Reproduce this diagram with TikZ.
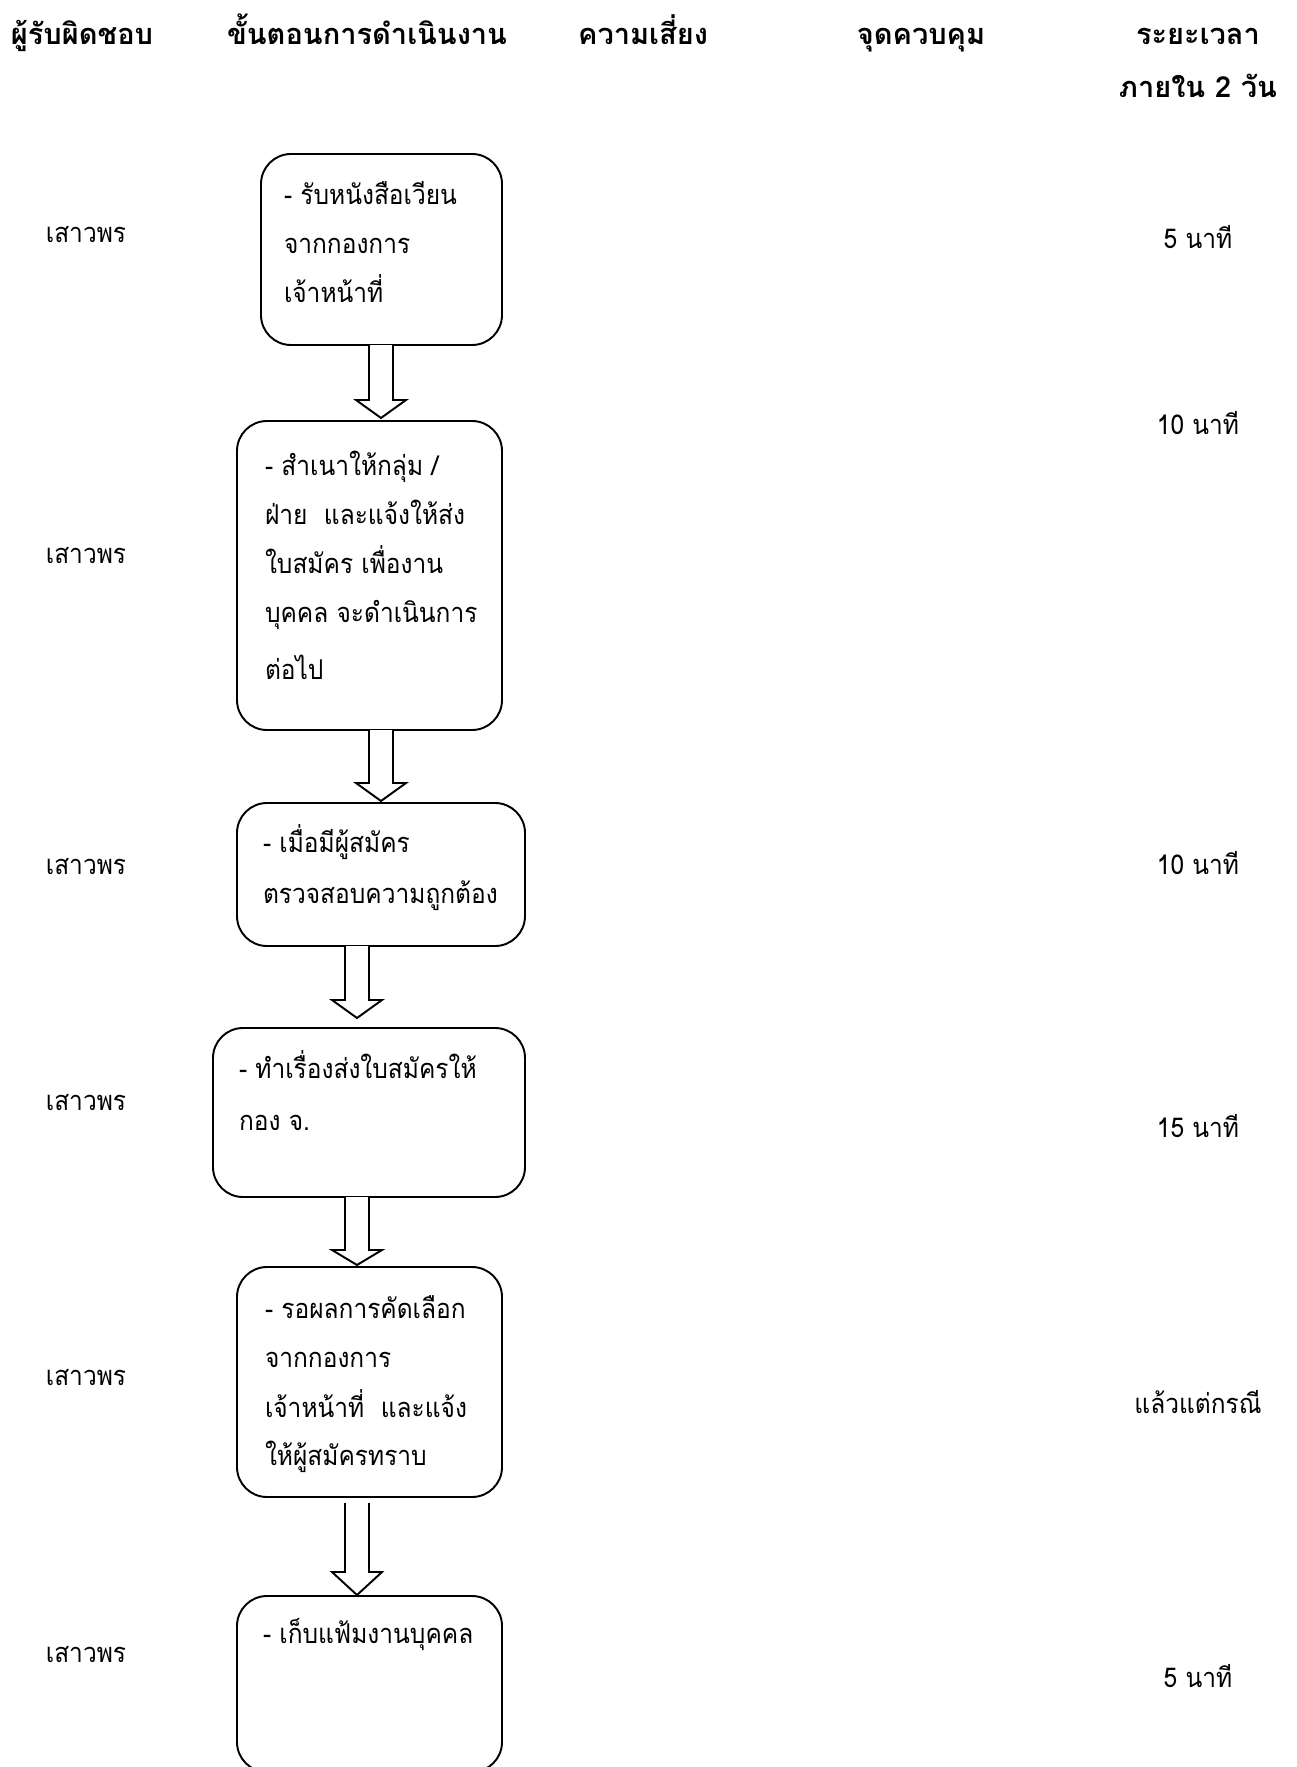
\documentclass[tikz,border=0pt]{standalone}
\usepackage{fontspec}
\setmainfont[Script=Thai]{Loma}
\newfontfamily\thaibody[Script=Thai,FakeStretch=0.9]{Loma}
\newfontfamily\thaihead[Script=Thai]{Loma}
\usetikzlibrary{calc}
\tikzset{
  every node/.style={inner sep=0pt, outer sep=0pt},
  head/.style={font=\thaihead\bfseries\fontsize{16.5}{19}\selectfont, anchor=base},
  body/.style={font=\thaibody\fontsize{15.5}{18}\selectfont, anchor=base west},
  mid/.style={font=\thaibody\fontsize{15.5}{18}\selectfont, anchor=base},
  stepbox/.style={draw, line width=1.1pt, rounded corners=0.6cm},
  fatarrow/.style={draw, line width=1.1pt, fill=white, line join=miter}
}
\newcommand{\blockarrow}[4]{% #1 x, #2 ytop, #3 ybase, #4 ytip
  \path[fatarrow] (#1-12,#2) -- (#1-12,#3) -- (#1-25,#3) -- (#1,#4) -- (#1+25,#3) -- (#1+12,#3) -- (#1+12,#2);
}
\begin{document}
\begin{tikzpicture}[x=0.02cm,y=-0.02cm]
\useasboundingbox (0,0) rectangle (1296,1767);
\fill[white] (0,0) rectangle (1296,1767);

% headers
\node[head] (h1) at (82,45) {ผู้รับผิดชอบ};
\node[head] (h2) at (367,45) {ขั้นตอนการดำเนินงาน};
\node[head] (h3) at (643,45) {ความเสี่ยง};
\node[head] (h4) at (921,45) {จุดควบคุม};
\node[head] (h5) at (1198,45) {ระยะเวลา};
\node[head] (h6) at (1198,98) {ภายใน 2 วัน};

% boxes
\draw[stepbox] (261,154) rectangle (502,345);
\draw[stepbox] (237,421) rectangle (502,730);
\draw[stepbox] (237,803) rectangle (525,946);
\draw[stepbox] (213,1028) rectangle (525,1197);
\draw[stepbox] (237,1267) rectangle (502,1497);
\draw[stepbox] (237,1596) rectangle (502,1772);

% block arrows
\blockarrow{381}{345}{400}{418}
\blockarrow{381}{730}{783}{801}
\blockarrow{357}{946}{1000}{1018}
\blockarrow{357}{1197}{1250}{1265}
\blockarrow{357}{1503}{1572}{1595}

% box texts
\node[body] (t11) at (284,205) {- รับหนังสือเวียน};
\node[body] (t12) at (284,254) {จากกองการ};
\node[body] (t13) at (284,303) {เจ้าหน้าที่};

\node[body] (t21) at (265,475) {- สำเนาให้กลุ่ม /};
\node[body] (t22) at (265,524) {ฝ่าย\ \ และแจ้งให้ส่ง};
\node[body] (t23) at (265,573) {ใบสมัคร เพื่องาน};
\node[body] (t24) at (265,622) {บุคคล จะดำเนินการ};
\node[body] (t25) at (265,679) {ต่อไป};

\node[body] (t31) at (263,852) {- เมื่อมีผู้สมัคร};
\node[body] (t32) at (263,903) {ตรวจสอบความถูกต้อง};

\node[body] (t41) at (239,1078) {- ทำเรื่องส่งใบสมัครให้};
\node[body] (t42) at (239,1130) {กอง จ.};

\node[body] (t51) at (265,1318) {- รอผลการคัดเลือก};
\node[body] (t52) at (265,1367) {จากกองการ};
\node[body] (t53) at (265,1417) {เจ้าหน้าที่\ \ และแจ้ง};
\node[body] (t54) at (265,1465) {ให้ผู้สมัครทราบ};

\node[body] (t61) at (263,1643) {- เก็บแฟ้มงานบุคคล};

% responsible
\node[mid] (r1) at (86,243) {เสาวพร};
\node[mid] (r2) at (86,563) {เสาวพร};
\node[mid] (r3) at (86,874) {เสาวพร};
\node[mid] (r4) at (86,1110) {เสาวพร};
\node[mid] (r5) at (86,1385) {เสาวพร};
\node[mid] (r6) at (86,1662) {เสาวพร};

% durations
\node[mid] (d1) at (1198,249) {5 นาที};
\node[mid] (d2) at (1198,434) {10 นาที};
\node[mid] (d3) at (1198,874) {10 นาที};
\node[mid] (d4) at (1198,1137) {15 นาที};
\node[mid] (d5) at (1198,1413) {แล้วแต่กรณี};
\node[mid] (d6) at (1198,1687) {5 นาที};
\end{tikzpicture}
\end{document}
